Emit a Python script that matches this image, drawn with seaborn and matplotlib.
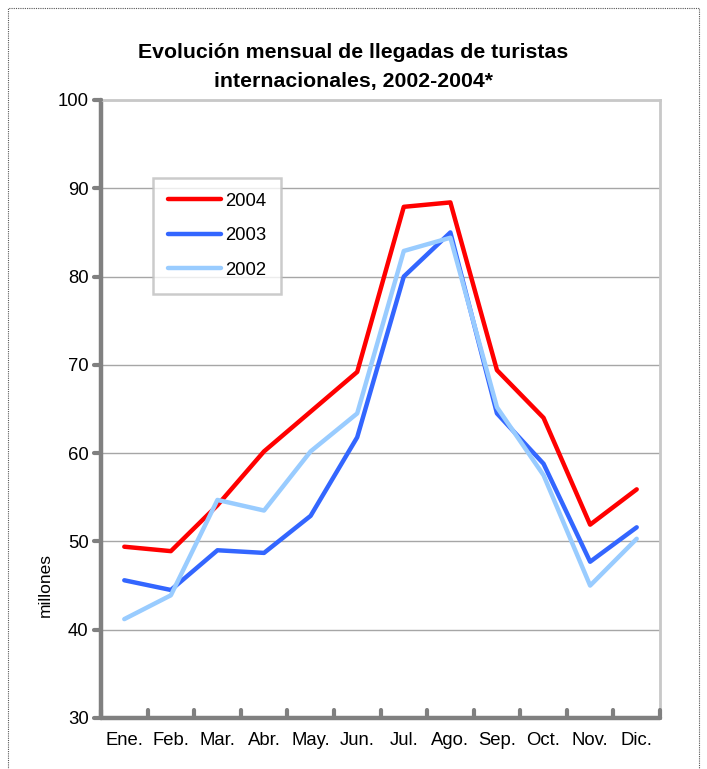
import numpy as np
import pandas as pd
import matplotlib as mpl
mpl.use('Agg')
import matplotlib.pyplot as plt
import seaborn as sns

# datos (millones de llegadas)
meses = ['Ene.', 'Feb.', 'Mar.', 'Abr.', 'May.', 'Jun.', 'Jul.', 'Ago.', 'Sep.', 'Oct.', 'Nov.', 'Dic.']
v2004 = [49.4, 48.9, 54.1, 60.2, 64.7, 69.2, 87.9, 88.4, 69.4, 64.0, 51.9, 55.9]
v2003 = [45.6, 44.5, 49.0, 48.7, 52.9, 61.8, 80.0, 85.0, 64.5, 58.8, 47.7, 51.6]
v2002 = [41.2, 43.9, 54.7, 53.5, 60.2, 64.5, 82.9, 84.4, 65.2, 57.5, 45.0, 50.3]
years = ['2004', '2003', '2002']
colores = ['#FF0000', '#3366FF', '#99CCFF']

df = pd.DataFrame({
    'mes': list(range(12)) * 3,
    'valor': v2004 + v2003 + v2002,
    'year': [y for y in years for _ in range(12)],
})

sns.set_style('white')
plt.rcParams['font.family'] = ['Liberation Sans', 'DejaVu Sans']
plt.rcParams['text.color'] = 'black'
plt.rcParams['xtick.color'] = 'black'
plt.rcParams['ytick.color'] = 'black'
plt.rcParams['xtick.labelcolor'] = 'black'
plt.rcParams['ytick.labelcolor'] = 'black'

fig = plt.figure(figsize=(7.07, 7.69), dpi=100)
ax = fig.add_axes([101/707, 1-718/769, (660-101)/707, (718-100)/769])

sns.lineplot(data=df, x='mes', y='valor', hue='year', hue_order=years,
             palette=colores, linewidth=3.2, ax=ax, legend=True)

ax.set_xlim(-0.5, 11.5)
ax.set_ylim(30, 100)
ax.set_yticks(range(30, 101, 10))
ax.set_xticks(range(12))
ax.set_xticklabels(meses)
ax.tick_params(axis='x', length=0, pad=10, labelsize=13.3, labelcolor='black')
ax.tick_params(axis='y', length=0, pad=9, labelsize=13.3, labelcolor='black')
# ticks de categoria en los limites
for b in np.arange(-0.5, 12, 1):
    ax.plot([b, b], [30, 30.9], color='#808080', lw=3, solid_capstyle='round',
            clip_on=False, zorder=5)
for yv in range(30, 101, 10):
    ax.plot([-0.5 - 0.14, -0.5], [yv, yv], color='#808080', lw=3,
            solid_capstyle='round', clip_on=False, zorder=5)
ax.set_xlabel('')
ax.set_ylabel('')
ax.grid(axis='y', color='#A6A6A6', linewidth=1)
ax.set_axisbelow(True)

for s in ['left', 'bottom']:
    ax.spines[s].set_color('#808080')
    ax.spines[s].set_linewidth(3.2)
    ax.spines[s].set_capstyle('round')
for s in ['top', 'right']:
    ax.spines[s].set_color('#C8C8C8')
    ax.spines[s].set_linewidth(2)

ax.text((45-101)/559, (718-585)/618, 'millones', transform=ax.transAxes, rotation=90,
        ha='center', va='center', fontsize=12.5, color='black')

leg = ax.legend(loc='upper left', bbox_to_anchor=((153-101)/559, (718-178)/618),
                frameon=True, fontsize=13.3, handlelength=2.9, handletextpad=0.2,
                labelspacing=0.95, borderpad=0.8, borderaxespad=0, fancybox=False)
leg.get_frame().set_edgecolor('#BFBFBF')
leg.get_frame().set_linewidth(1.8)
for ln in leg.get_lines():
    ln.set_linewidth(3.2)
for t in leg.get_texts():
    t.set_color('black')

fig.text(0.5, 1-53/769, 'Evolución mensual de llegadas de turistas', ha='center',
         va='center', fontsize=15.3, fontweight='bold', color='black')
fig.text(0.5, 1-82/769, 'internacionales, 2002-2004*', ha='center',
         va='center', fontsize=15.3, fontweight='bold', color='black')

# marco punteado
rect = mpl.patches.Rectangle((8/707, -0.05), (699-8)/707, 1-8/769+0.05,
                             transform=fig.transFigure, fill=False,
                             edgecolor='#555555', linewidth=0.8, linestyle=(0, (1, 1)))
fig.patches.append(rect)

fig.savefig('out.png', dpi=100)
